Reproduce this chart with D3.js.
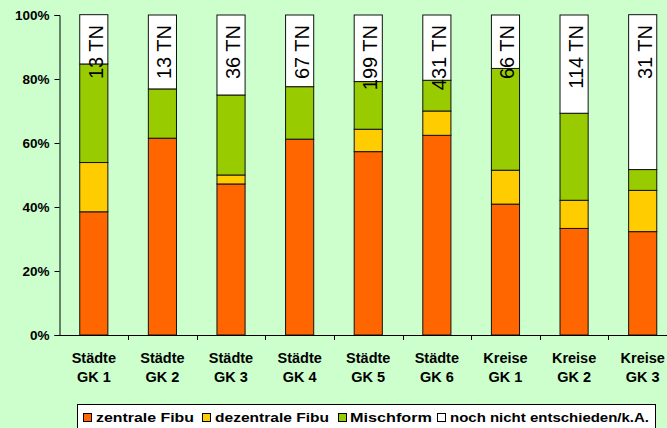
<!DOCTYPE html>
<meta charset="utf-8">
<script src="https://d3js.org/d3.v7.min.js"></script>
<style>
body { margin: 0; background: #ccffcc; }
text { font-family: "Liberation Sans", Arial, sans-serif; }
</style>
<body>
<script>

// data
var categories = ["Städte GK 1", "Städte GK 2", "Städte GK 3", "Städte GK 4", "Städte GK 5", "Städte GK 6", "Kreise GK 1", "Kreise GK 2", "Kreise GK 3"];
var zentral   = [38.5, 61.5, 47.2, 61.2, 57.3, 62.4, 40.9, 33.3, 32.3];
var dezentral = [15.4,  0.0,  2.8,  0.0,  7.0,  7.6, 10.6,  8.8, 12.9];
var misch     = [30.8, 15.4, 25.0, 16.4, 14.9,  9.6, 31.8, 27.2,  6.5];
var offen     = [15.4, 23.1, 25.0, 22.4, 20.8, 20.4, 16.7, 30.7, 48.4];
var teilnehmer = [13, 13, 36, 67, 199, 431, 66, 114, 31];
var seriesNames = ["zentrale Fibu", "dezentrale Fibu", "Mischform", "noch nicht entschieden/k.A."];
var colors = ["#ff6600", "#ffcc00", "#99cc00", "#ffffff"];
var yTicks = [0, 20, 40, 60, 80, 100];

var width = 667, height = 428;
var svg = d3.select("body").append("svg")
    .attr("width", width)
    .attr("height", height);

svg.append("rect").attr("width", width).attr("height", height).attr("fill", "#ccffcc");

var keys = ["z", "d", "m", "o"];
var rows = categories.map(function(c, i) {
    return {cat: c, z: zentral[i], d: dezentral[i], m: misch[i], o: offen[i]};
});
var stack = d3.stack().keys(keys)(rows);

var x = d3.scaleBand().domain(categories).range([59.5, 677]).padding(0);
var y = d3.scaleLinear().domain([0, 100]).range([335, 15]);
var barW = x.bandwidth() * 0.41;

// bars
svg.selectAll("g.series").data(stack).enter().append("g")
    .attr("class", "series")
    .attr("fill", function(d, i) { return colors[i]; })
    .selectAll("rect").data(function(d) { return d; }).enter()
    .filter(function(d) { return d[1] - d[0] > 0; })
    .append("rect")
    .attr("x", function(d) { return x(d.data.cat) + (x.bandwidth() - barW) / 2; })
    .attr("y", function(d) { return y(d[1]); })
    .attr("width", barW)
    .attr("height", function(d) { return y(d[0]) - y(d[1]); })
    .attr("stroke", "#111")
    .attr("stroke-width", 1);

// TN labels
svg.selectAll("text.tn").data(categories).enter().append("text")
    .attr("class", "tn")
    .attr("transform", function(d) { return "translate(" + (x(d) + x.bandwidth() / 2 + 9) + ",25) rotate(-90)"; })
    .attr("text-anchor", "end")
    .style("font-size", "20px")
    .attr("fill", "#000")
    .text(function(d, i) { return teilnehmer[i] + " TN"; });

// y axis
var yAxis = svg.append("g").attr("transform", "translate(59.5,0)")
    .call(d3.axisLeft(y).tickValues(yTicks).tickSize(5).tickFormat(function(d) { return d + "%"; }));
yAxis.select(".domain").attr("stroke", "#000");
yAxis.selectAll(".tick line").attr("stroke", "#000");
yAxis.selectAll(".tick text").attr("x", -10)
    .style("font-size", "13.5px").style("font-weight", "bold")
    .style("font-family", "'Liberation Sans', Arial, sans-serif").attr("fill", "#000");

// x axis
svg.append("line").attr("x1", 59.5).attr("x2", 677).attr("y1", 335.5).attr("y2", 335.5).attr("stroke", "#000");
svg.selectAll("line.xtick").data(categories.slice(1)).enter().append("line")
    .attr("class", "xtick")
    .attr("x1", function(d) { return Math.round(x(d)) + 0.5; })
    .attr("x2", function(d) { return Math.round(x(d)) + 0.5; })
    .attr("y1", 335).attr("y2", 340).attr("stroke", "#000");

var xl = svg.selectAll("text.xl").data(categories).enter().append("text")
    .attr("class", "xl")
    .attr("text-anchor", "middle")
    .style("font-size", "14.5px").style("font-weight", "bold")
    .attr("fill", "#000");
xl.append("tspan").attr("x", function(d) { return x(d) + x.bandwidth() / 2; }).attr("y", 362.5)
    .text(function(d) { return d.split(" ")[0]; });
xl.append("tspan").attr("x", function(d) { return x(d) + x.bandwidth() / 2; }).attr("y", 381.5)
    .text(function(d) { return d.split(" ").slice(1).join(" "); });

// legend
var legend = svg.append("g");
legend.append("rect").attr("x", 77.5).attr("y", 404.5).attr("width", 578).attr("height", 30)
    .attr("fill", "#fff").attr("stroke", "#000");
var legX = [83, 202, 338, 437];
var legW = [98, 114, 82, 199];
var item = legend.selectAll("g.item").data(seriesNames).enter().append("g")
    .attr("transform", function(d, i) { return "translate(" + legX[i] + ",0)"; });
item.append("rect").attr("x", 0.5).attr("y", 413.5).attr("width", 8).attr("height", 8)
    .attr("fill", function(d, i) { return colors[i]; }).attr("stroke", "#000");
item.append("text").attr("x", function(d, i) { return i == 2 ? 12 : 13; }).attr("y", 422)
    .attr("textLength", function(d, i) { return legW[i]; })
    .attr("lengthAdjust", "spacingAndGlyphs")
    .style("font-size", "13.5px").style("font-weight", "bold").attr("fill", "#000")
    .text(String);

</script>
</body>
</html>
